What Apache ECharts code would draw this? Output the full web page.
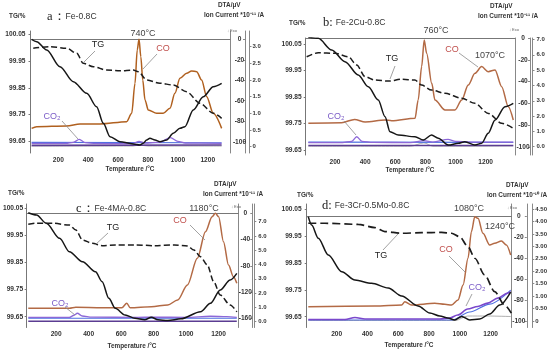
<!DOCTYPE html>
<html><head><meta charset="utf-8">
<script src="https://cdn.jsdelivr.net/npm/echarts@6/dist/echarts.min.js"></script>
<style>html,body{margin:0;padding:0;background:#fff}#c{width:550px;height:353px}</style>
</head><body><div id="c"></div>
<script>
// ---------------- DATA ----------------
const tempTicks = [200, 400, 600, 800, 1000, 1200];
const tgTicks = [99.65, 99.75, 99.85, 99.95, 100.05];
const aDtaTicks = [0, -20, -40, -60, -80, -100];
const aIonTicks = [0, 0.5, 1, 1.5, 2, 2.5, 3, 3.5];
const bDtaTicks = [0, -20, -40, -60, -80, -100];
const bIonTicks = [0, 1, 2, 3, 4, 5, 6, 7];
const cDtaTicks = [0, -40, -80, -120, -160];
const cIonTicks = [0, 1, 2, 3, 4, 5, 6, 7];
const dDtaTicks = [0, -20, -40, -60, -80, -100];
const dIonTicks = [0, 0.5, 1, 1.5, 2, 2.5, 3, 3.5, 4, 4.5];

// panel a: Fe-0.8C
const aTgT = [32,144,256,323,367,434,523,612,701,735,791,880,969,1059,1148,1237,1293];
const aTgV = [99.997,100.003,99.997,99.978,99.941,99.928,99.916,99.913,99.916,99.910,99.879,99.867,99.860,99.835,99.792,99.755,99.736];
const aDtaT = [21,55,122,211,300,390,456,501,546,612,701,746,768,791,813,847,880,925,969,1014,1047,1103,1170,1237,1293];
const aDtaV = [0,-2.3,-10.4,-26.8,-41.4,-52.7,-65.8,-82,-95.1,-100,-102.2,-103.2,-101.6,-98.3,-96.7,-98.3,-100,-98.3,-91.8,-86.9,-85.4,-69,-56.1,-46.3,-43];
const aCoT = [21,55,256,345,479,657,691,713,728,740,752,765,780,802,858,902,947,980,1014,1059,1092,1126,1159,1193,1237,1293];
const aCoV = [0.55,0.60,0.62,0.68,0.68,0.75,1.0,1.9,2.9,3.22,2.7,2.0,1.4,1.1,1.0,1.0,1.15,1.6,2.05,2.2,2.27,2.25,2.0,1.5,1.0,0.55];
const aCo2T = [21,250,300,340,380,450,600,700,740,780,880,950,1000,1050,1293];
const aCo2V = [0.10,0.10,0.13,0.22,0.12,0.10,0.09,0.10,0.16,0.11,0.14,0.27,0.16,0.11,0.10];
const aBlueT = [21,1293], aBlueV = [0.13,0.12];
const aPurpT = [21,1293], aPurpV = [0.04,0.05];
const aGrayT = [21,700,740,800,1293], aGrayV = [0.02,0.02,0.05,0.02,0.02];

// panel b: Fe-2Cu-0.8C
const bTgT = [12,89,200,288,344,399,465,554,642,730,775,841,930,1041,1129,1218,1306,1383];
const bTgV = [100.002,100.017,100.015,100.002,99.971,99.927,99.914,99.910,99.917,99.914,99.895,99.876,99.864,99.845,99.826,99.788,99.751,99.732];
const bDtaT = [23,89,178,266,354,421,487,532,565,620,731,786,841,885,952,1018,1062,1129,1173,1217,1262,1328,1383];
const bDtaV = [0.6,-0.3,-11,-21.7,-33.9,-44.7,-56.9,-72.2,-86,-89,-90.6,-93.6,-89,-92,-98.2,-96.6,-95.1,-98.2,-96.6,-87.4,-75.2,-63,-59.9];
const bCoT = [23,244,330,400,532,576,731,752,775,792,808,842,863,930,996,1041,1084,1129,1173,1217,1262,1306,1350,1383];
const bCoV = [1.53,1.57,1.78,1.62,1.74,1.70,1.86,3.05,5.23,6.97,6.10,4.14,3.05,2.40,2.40,3.05,4.03,4.79,5.23,4.90,5.01,3.92,2.61,1.74];
const bCo2T = [23,250,310,344,380,450,700,790,850,950,1000,1100,1383];
const bCo2V = [0.27,0.27,0.35,0.65,0.35,0.28,0.27,0.40,0.30,0.48,0.35,0.30,0.30];
const bBlueT = [23,1383], bBlueV = [0.30,0.28];
const bPurpT = [23,1383], bPurpV = [0.08,0.08];
const bGrayT = [23,700,790,850,1383], bGrayV = [0.03,0.03,0.25,0.03,0.05];

// panel c: Fe-4MA-0.8C
const cTgT = [28,79,180,281,321,362,422,483,564,685,806,927,1008,1048,1089,1130,1170,1210,1271,1312];
const cTgV = [99.991,99.995,99.995,99.988,99.970,99.933,99.921,99.912,99.915,99.915,99.912,99.915,99.911,99.896,99.871,99.841,99.779,99.730,99.693,99.668];
const cDtaT = [28,79,139,221,281,362,442,483,524,564,624,685,745,786,827,887,968,1089,1150,1210,1271,1312];
const cDtaV = [0.9,-2.6,-15.2,-38.1,-58.5,-73.8,-89,-104.3,-129.6,-144.8,-155,-160,-162.3,-158.4,-162.3,-163.3,-160.8,-150,-137.2,-116.9,-101.7,-91.5];
const cCoT = [28,281,321,483,604,635,655,786,887,948,1008,1069,1119,1160,1180,1200,1230,1261,1291,1312];
const cCoV = [0.94,0.94,1.01,0.98,0.98,1.29,0.98,1.05,1.17,1.52,2.57,4.44,6.30,7.35,7.59,7.35,5.60,3.97,3.15,2.69];
const cCo2T = [28,280,310,330,360,420,700,800,1000,1150,1250,1312];
const cCo2V = [0.30,0.30,0.45,0.59,0.40,0.32,0.30,0.32,0.30,0.38,0.35,0.30];
const cBlueT = [28,1312], cBlueV = [0.24,0.24];
const cPurpT = [28,1312], cPurpV = [0.03,0.03];

// panel d: Fe-3Cr-0.5Mo-0.8C
const dTgT = [16,124,340,448,513,622,751,881,946,999,1053,1097,1161,1226,1291,1334];
const dTgV = [99.997,99.997,99.993,99.981,99.966,99.960,99.962,99.963,99.960,99.947,99.910,99.867,99.805,99.743,99.693,99.663];
const dDtaT = [16,38,81,146,233,319,427,535,622,729,805,870,922,967,1012,1064,1129,1194,1259,1330];
const dDtaV = [-0.7,-8.6,-21.2,-37.1,-53,-61,-64.1,-68.6,-76.2,-85.7,-92.4,-95.2,-97.1,-99,-95.7,-99,-98.1,-93.3,-84.8,-72.4];
const dCoT = [16,448,622,643,686,837,902,946,988,1021,1053,1075,1097,1118,1150,1194,1226,1270,1302,1330];
const dCoV = [0.574,0.602,0.643,0.775,0.643,0.711,0.671,0.643,0.843,1.446,2.518,3.586,4.189,4.124,3.522,3.052,3.120,3.213,3.052,2.651];
const dCo2T = [16,254,319,384,870,934,986,1051,1116,1181,1246,1310,1330];
const dCo2V = [0.06,0.06,0.14,0.08,0.08,0.12,0.24,0.48,0.58,0.72,0.92,1.12,1.18];
const dBlueT = [16,950,1064,1194,1330], dBlueV = [0.04,0.04,0.36,0.68,1.24];
const dGrayT = [16,970,1051,1181,1330], dGrayV = [0.02,0.02,0.2,0.2,0.18];

// ---------------- LAYOUT ----------------
const SANS = '"Liberation Sans", Arial, sans-serif';
const SERIF = '"Liberation Serif", "Times New Roman", serif';
const C_TG = '#1c1c1c', C_DTA = '#161616', C_CO = '#b36a45', C_CO2 = '#8d68d8', C_BLUE = '#4d6fe0', C_PURP = '#5b3c92', C_GRAY = '#9a9a9a';

// calibration: [value1, pixel1, value2, pixel2]
const P = [
  {l:30.5, r:230, t:31, b:153, x:[200,58.35,1200,207.75], tg:[100.05,34,99.65,141.5], dta:[0,39.3,-100,141.7], ion:[0,146.7,3.5,30],
   dtaOff:15, dtaM:5.5, ionOff:19.5, ionM:3, tgM:5, xM:3.5, dtaT:aDtaTicks, ionT:aIonTicks, ionFmt:v=>v===0?'0':v.toFixed(1)},
  {l:305.7, r:515, t:38, b:155, x:[200,335,1200,485.7], tg:[100.05,44,99.65,150], dta:[0,38,-100,147], ion:[0,146.7,7,39.5],
   dtaOff:15, dtaM:7, ionOff:17.5, ionM:4, tgM:4, xM:3.5, dtaT:bDtaTicks, ionT:bIonTicks, ionFmt:v=>v.toFixed(1)},
  {l:23.3, r:238.3, t:204, b:327.5, x:[200,53.3,1200,218.3], tg:[100.05,208.3,99.65,316.7], dta:[0,213.3,-160,318.3], ion:[0,321.7,7,221.7],
   dtaOff:14, dtaM:7, ionOff:16, ionM:4, tgM:3.5, xM:3.5, dtaT:cDtaTicks, ionT:cIonTicks, ionFmt:v=>v.toFixed(1)},
  {l:306.7, r:511.7, t:204, b:327.5, x:[200,336.7,1200,491], tg:[100.05,209,99.65,316.7], dta:[0,216,-100,321], ion:[0,321,4.5,209],
   dtaOff:15.5, dtaM:8, ionOff:21, ionM:3, tgM:5, xM:3, dtaT:dDtaTicks, ionT:dIonTicks, ionFmt:v=>v===0?'0':v.toFixed(2)}
];
function at(c, p) { return c[0] + (p - c[1]) * (c[2] - c[0]) / (c[3] - c[1]); }
const pairs = (T, V) => T.map((t, i) => [t, V[i]]);

const lblStyle = {fontFamily: SANS, fontSize: 6.6, fontWeight: 'bold', color: '#333'};
const grids = [], xAxes = [], yAxes = [], series = [];
P.forEach((p, i) => {
  grids.push({left: p.l, top: p.t, width: p.r - p.l, height: p.b - p.t, containLabel: false});
  xAxes.push({type:'value', gridIndex:i, min:at(p.x,p.l), max:at(p.x,p.r),
    axisLine:{show:true, lineStyle:{color:'#777', width:1}}, axisTick:{show:false},
    splitLine:{show:false}, axisLabel:Object.assign({customValues:tempTicks, margin:p.xM, formatter:v=>String(v)}, lblStyle)});
  yAxes.push({type:'value', gridIndex:i, position:'left', min:at(p.tg,p.b), max:at(p.tg,p.t),
    axisLine:{show:true, lineStyle:{color:'#777'}}, axisTick:{show:true, length:2, customValues:tgTicks, lineStyle:{color:'#777'}},
    splitLine:{show:false}, axisLabel:Object.assign({customValues:tgTicks, margin:p.tgM, formatter:v=>v.toFixed(2)}, lblStyle)});
  yAxes.push({type:'value', gridIndex:i, position:'right', offset:p.dtaOff, min:at(p.dta,p.b), max:at(p.dta,p.t),
    axisLine:{show:true, lineStyle:{color:'#888'}}, axisTick:{show:true, inside:true, length:2, customValues:p.dtaT, lineStyle:{color:'#888'}},
    splitLine:{show:false}, axisLabel:Object.assign({customValues:p.dtaT, inside:true, margin:p.dtaM, align:'center', formatter:v=>String(v)}, lblStyle)});
  yAxes.push({type:'value', gridIndex:i, position:'right', offset:p.ionOff, min:at(p.ion,p.b), max:at(p.ion,p.t),
    axisLine:{show:true, lineStyle:{color:'#888'}}, axisTick:{show:true, length:2, customValues:p.ionT, lineStyle:{color:'#888'}},
    splitLine:{show:false}, axisLabel:Object.assign({customValues:p.ionT, margin:p.ionM, formatter:p.ionFmt}, lblStyle, {fontSize:6})});
  yAxes.push({type:'value', gridIndex:i, position:'right', offset:0, min:0, max:1,
    axisLine:{show:true, lineStyle:{color:'#888'}}, axisTick:{show:false}, axisLabel:{show:false}, splitLine:{show:false}});
});

function addLine(panel, axis, T, V, color, width, dashed, z) {
  series.push({type:'line', xAxisIndex:panel, yAxisIndex:panel*4+axis, data:pairs(T,V),
    showSymbol:false, smooth:0.3, smoothMonotone:'x', silent:true, z:z||2,
    lineStyle:{color:color, width:width, type: dashed ? (Array.isArray(dashed) ? dashed : [6,3]) : 'solid'}});
}
addLine(0,2,aGrayT,aGrayV,C_GRAY,0.8); addLine(0,2,aPurpT,aPurpV,C_PURP,1.6); addLine(0,2,aBlueT,aBlueV,C_BLUE,1.1);
addLine(0,2,aCo2T,aCo2V,C_CO2,1.3,false,3); addLine(0,2,aCoT,aCoV,'#b0601f',1.5,false,3);
addLine(0,1,aDtaT,aDtaV,C_DTA,1.5,false,4); addLine(0,0,aTgT,aTgV,C_TG,1.5,true,4);

addLine(1,2,bGrayT,bGrayV,C_GRAY,0.8); addLine(1,2,bPurpT,bPurpV,C_PURP,1.6); addLine(1,2,bBlueT,bBlueV,C_BLUE,1.1);
addLine(1,2,bCo2T,bCo2V,C_CO2,1.3,false,3); addLine(1,2,bCoT,bCoV,C_CO,1.5,false,3);
addLine(1,1,bDtaT,bDtaV,C_DTA,1.5,false,4); addLine(1,0,bTgT,bTgV,C_TG,1.5,true,4);

addLine(2,2,cPurpT,cPurpV,C_PURP,1.6); addLine(2,2,cBlueT,cBlueV,C_BLUE,1.1);
addLine(2,2,cCo2T,cCo2V,C_CO2,1.3,false,3); addLine(2,2,cCoT,cCoV,C_CO,1.5,false,3);
addLine(2,1,cDtaT,cDtaV,C_DTA,1.5,false,4); addLine(2,0,cTgT,cTgV,C_TG,1.5,true,4);

addLine(3,2,dGrayT,dGrayV,C_GRAY,0.8); addLine(3,2,dBlueT,dBlueV,C_BLUE,1.1);
addLine(3,2,dCo2T,dCo2V,'#7a48cc',1.6,false,3); addLine(3,2,dCoT,dCoV,C_CO,1.5,false,3);
addLine(3,1,dDtaT,dDtaV,C_DTA,1.5,false,4); addLine(3,0,dTgT,dTgV,C_TG,1.7,[8,4],4);

// ---------------- TEXT ----------------
const G = [];
function txt(x, y, s, font, fill, align) {
  G.push({type:'text', x:x, y:y, z:100, style:{text:s, font:font, fill:fill||'#333', textAlign:align||'left', textVerticalAlign:'middle'}});
}
function title(x, y, letter, name) {
  G.push({type:'text', x:x, y:y, z:100, style:{text:'{s|'+letter+'}{n|'+name+'}', textVerticalAlign:'middle',
    rich:{s:{fontFamily:SERIF, fontSize:12.5, fill:'#222'}, n:{fontFamily:SANS, fontSize:8.6, fill:'#333'}}}});
}
function lead(x1, y1, x2, y2) {
  G.push({type:'line', z:100, shape:{x1:x1,y1:y1,x2:x2,y2:y2}, style:{stroke:'#8a8a8a', lineWidth:0.8}});
}
const small = 'bold 6.4px ' + SANS;
const ann = '9px ' + SANS, lab = '9px ' + SANS;
// panel a
txt(9, 16, 'TG/%', small); title(47, 17, 'a：', 'Fe-0.8C');
txt(218, 5, 'DTA/μV', small); txt(204, 15, 'Ion Current *10⁻¹¹ /A', small);
txt(227, 31, '↓ Exo', '4px ' + SANS, '#666');
txt(143, 34, '740°C', ann, '#444', 'center');
txt(98, 45, 'TG', lab, '#222', 'center'); lead(95, 51, 83, 63);
txt(163, 49, 'CO', lab, '#c0504d', 'center'); lead(157, 54, 143, 69);
txt(52, 117, 'CO₂', lab, '#7b5cc7', 'center'); lead(62, 121, 78, 139);
txt(130, 169, 'Temperature /°C', small, '#333', 'center');
// panel b
txt(289, 23, 'TG/%', small); title(323, 23, 'b: ', 'Fe-2Cu-0.8C');
txt(490, 6, 'DTA/μV', small); txt(478, 16, 'Ion Current *10⁻¹¹ /A', small);
txt(509, 30, '↓ Exo', '4px ' + SANS, '#666');
txt(436, 31, '760°C', ann, '#444', 'center');
txt(392, 59, 'TG', lab, '#222', 'center'); lead(395, 66, 390, 79);
txt(452, 50, 'CO', lab, '#c0504d', 'center'); lead(459, 53, 478, 67);
txt(490, 56, '1070°C', ann, '#444', 'center');
txt(336, 117, 'CO₂', lab, '#7b5cc7', 'center'); lead(344, 121, 356, 135);
txt(410, 170, 'Temperature /°C', small, '#333', 'center');
// panel c
txt(8, 193, 'TG/%', small); title(76, 209, 'c：', 'Fe-4MA-0.8C');
txt(214, 184, 'DTA/μV', small); txt(203, 194, 'Ion Current *10⁻¹¹ /A', small);
txt(231, 207, '↓ Exo', '4px ' + SANS, '#666');
txt(204, 209, '1180°C', ann, '#444', 'center');
txt(113, 228, 'TG', lab, '#222', 'center'); lead(108, 233, 95, 245);
txt(180, 221, 'CO', lab, '#c0504d', 'center'); lead(190, 225, 205, 240);
txt(60, 304, 'CO₂', lab, '#7b5cc7', 'center'); lead(65, 307, 75, 315);
txt(132, 346, 'Temperature /°C', small, '#333', 'center');
// panel d
txt(297, 195, 'TG/%', small); title(322, 206, 'd: ', 'Fe-3Cr-0.5Mo-0.8C');
txt(506, 185, 'DTA/μV', small); txt(487, 195, 'Ion Current *10⁻¹⁰ /A', small);
txt(507, 208, '↓ Exo', '4px ' + SANS, '#666');
txt(469, 209, '1080°C', ann, '#444', 'center');
txt(500, 227, '1240°C', ann, '#444', 'center');
txt(381, 256, 'TG', lab, '#222', 'center'); lead(383, 250, 398, 234);
txt(446, 250, 'CO', lab, '#c0504d', 'center'); lead(449, 256, 465, 272);
txt(477, 288, 'CO₂', lab, '#7b5cc7', 'center'); lead(472, 294, 466, 306);
txt(409, 345, 'Temperature /°C', small, '#333', 'center');

const chart = echarts.init(document.getElementById('c'), null, {renderer:'canvas'});
chart.setOption({animation:false, grid:grids, xAxis:xAxes, yAxis:yAxes, series:series, graphic:G});
</script></body></html>
